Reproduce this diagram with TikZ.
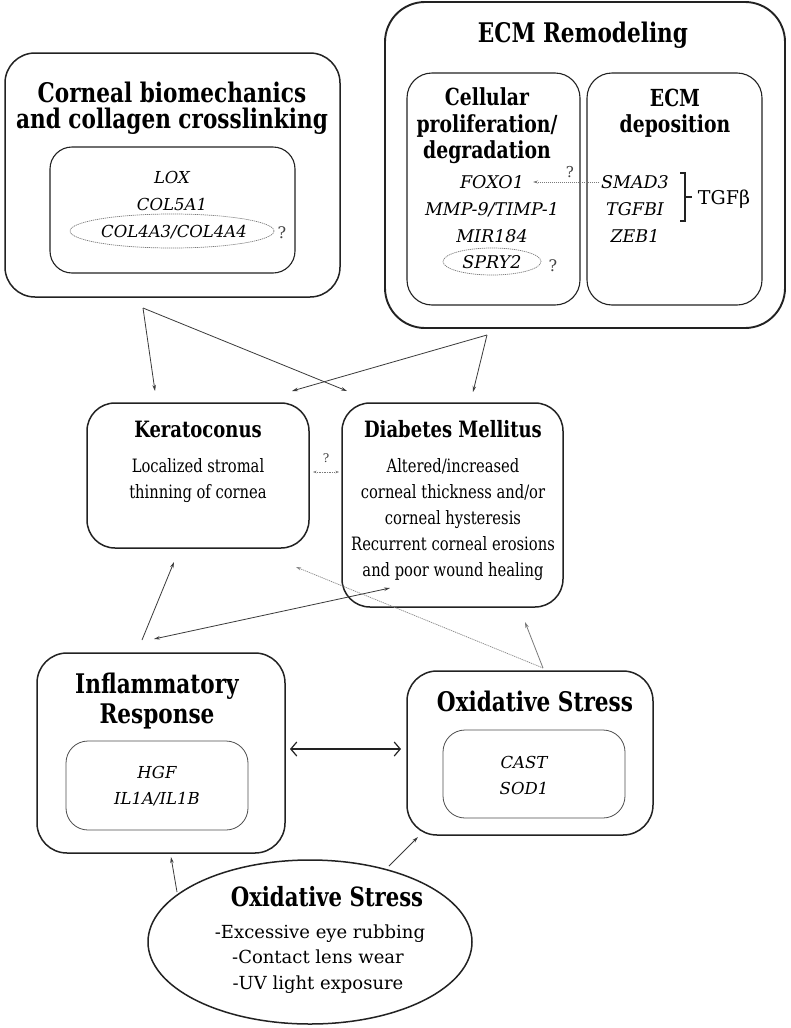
\documentclass[tikz,border=0pt]{standalone}
\usepackage{fontspec}
\setmainfont{DejaVu Serif}
\newfontfamily\nf{DejaVu Serif}[FakeStretch=0.8]
\newfontfamily\wf{DejaVu Serif}
\usetikzlibrary{arrows.meta,shapes.geometric}
\definecolor{ln}{HTML}{222222}
\definecolor{ar}{HTML}{3A3A3A}
\definecolor{dg}{HTML}{7A7A7A}
\begin{document}
\begin{tikzpicture}[x=1pt,y=-1pt,
  bx/.style={draw=ln,line width=1.5pt,rounded corners=#1,inner sep=0,minimum width=0,minimum height=0},
  ibx/.style={draw=ln,line width=1.1pt,rounded corners=#1,inner sep=0},
  tbx/.style={draw=ln!80,line width=0.8pt,rounded corners=#1,inner sep=0},
  ttl/.style={anchor=base,inner sep=0,font=\nf\bfseries\fontsize{27}{30}\selectfont},
  mttl/.style={anchor=base,inner sep=0,font=\nf\bfseries\fontsize{22.5}{26}\selectfont},
  sttl/.style={anchor=base,inner sep=0,font=\nf\bfseries\fontsize{23.5}{26}\selectfont},
  body/.style={anchor=base,inner sep=0,font=\nf\fontsize{18.4}{26}\selectfont},
  ebody/.style={anchor=base,inner sep=0,font=\wf\fontsize{18}{26}\selectfont},
  gene/.style={anchor=base,inner sep=0,font=\wf\itshape\fontsize{17.5}{26}\selectfont},
  cgene/.style={anchor=base,inner sep=0,font=\wf\itshape\fontsize{16.5}{26}\selectfont},
  qm/.style={anchor=base,inner sep=0,text=ln!85,font=\wf\fontsize{16}{20}\selectfont},
  sqm/.style={anchor=base,inner sep=0,text=ln!85,font=\wf\fontsize{12}{14}\selectfont},
  arr/.style={draw=ar,line width=0.8pt,-{Stealth[length=6pt,width=3.5pt]}},
  darr/.style={draw=ar,line width=0.8pt,{Stealth[length=6pt,width=3.5pt]}-{Stealth[length=6pt,width=3.5pt]}},
  dotarr/.style={draw=dg,line width=0.7pt,dash pattern=on 1.2pt off 0.8pt,-{Stealth[length=5pt,width=3pt]}},
  dotell/.style={draw=dg,line width=0.7pt,dash pattern=on 1.2pt off 0.8pt,ellipse,inner sep=0}
]
\useasboundingbox[fill=white] (0,0) rectangle (790,1028);

% ---------- Corneal biomechanics ----------
\node[bx=30,minimum width=335pt,minimum height=244pt] (corneal) at (172.5,175) {};
\node[ibx=22,minimum width=245pt,minimum height=126pt] (cornealin) at (172.5,210) {};
\node[ttl] (ct1) at (172,102) {Corneal biomechanics};
\node[ttl] (ct2) at (172,128) {and collagen crosslinking};
\node[cgene] (lox) at (172,183) {LOX};
\node[cgene] (col5) at (172,210) {COL5A1};
\node[cgene] (col4) at (174,237) {COL4A3/COL4A4};
\node[dotell,minimum width=204pt,minimum height=34pt] (col4e) at (172,231) {};
\node[qm] (q1) at (282,238) {?};

% ---------- ECM Remodeling ----------
\node[bx=40,line width=1.9pt,minimum width=400pt,minimum height=326pt] (ecm) at (585,165) {};
\node[ibx=25,minimum width=173pt,minimum height=232pt] (ecmL) at (493.5,189) {};
\node[ibx=25,minimum width=175pt,minimum height=232pt] (ecmR) at (674.5,189) {};
\node[ttl] (et) at (583,42) {ECM Remodeling};
\node[sttl] (el1) at (487,105) {Cellular};
\node[sttl] (el2) at (487,132) {proliferation/};
\node[sttl] (el3) at (487,158) {degradation};
\node[sttl] (er1) at (675,106) {ECM};
\node[sttl] (er2) at (675,132) {deposition};
\node[gene] (foxo) at (492,188) {FOXO1};
\node[gene] (mmp) at (492,215) {MMP-9/TIMP-1};
\node[gene] (mir) at (492,242) {MIR184};
\node[gene] (spry) at (492,268) {SPRY2};
\node[dotell,minimum width=98pt,minimum height=27pt] (sprye) at (492,261.5) {};
\node[qm] (q2) at (553,271) {?};
\node[gene] (smad) at (635,188) {SMAD3};
\node[gene] (tgfbi) at (635,215) {TGFBI};
\node[gene] (zeb) at (635,242) {ZEB1};
\node[anchor=base,inner sep=0,font=\wf\fontsize{19}{22}\selectfont] (tgfb) at (724,204) {TGFβ};
\coordinate (brt) at (680,173);
\coordinate (brb) at (680,221);
\coordinate (brm) at (685,197);
\coordinate (brmr) at (692,197);
\draw[ln,line width=1.1pt] (brt) -- ++(5,0) -- ++(0,48) -- (brb);
\draw[ln,line width=1.1pt] (brm) -- (brmr);
\coordinate (smadL) at (599,182);
\coordinate (foxoR) at (533,182);
\draw[dotarr] (smadL) -- (foxoR);
\node[sqm,font=\wf\fontsize{15}{17}\selectfont] (q3) at (570,177) {?};

% ---------- Keratoconus / Diabetes ----------
\node[bx=28,minimum width=222pt,minimum height=145pt] (kerato) at (198,475.5) {};
\node[mttl] (kt) at (198,437) {Keratoconus};
\node[body] (kb1) at (198,472) {Localized stromal};
\node[body] (kb2) at (198,498) {thinning of cornea};

\node[bx=28,minimum width=221pt,minimum height=204pt] (diab) at (452.5,505) {};
\node[mttl] (dt) at (453,437) {Diabetes Mellitus};
\node[body] (db1) at (453,472) {Altered/increased};
\node[body] (db2) at (453,498) {corneal thickness and/or};
\node[body] (db3) at (453,524) {corneal hysteresis};
\node[body] (db4) at (453,550) {Recurrent corneal erosions};
\node[body] (db5) at (453,576) {and poor wound healing};

\coordinate (kR) at (313,472);
\coordinate (dL) at (339,472);
\draw[draw=dg,line width=0.6pt,dash pattern=on 1pt off 0.7pt,{Stealth[length=3.5pt,width=2.5pt]}-{Stealth[length=3.5pt,width=2.5pt]}] (kR) -- (dL);
\node[sqm] (q4) at (326,462) {?};

% arrows from top boxes
\coordinate (cB) at (143,308);
\coordinate (eB) at (487,335);
\coordinate (kT1) at (155,391);
\coordinate (kT2) at (292,391);
\coordinate (dT1) at (347,391);
\coordinate (dT2) at (473,392);
\draw[arr] (cB) -- (kT1);
\draw[arr] (cB) -- (dT1);
\draw[arr] (eB) -- (kT2);
\draw[arr] (eB) -- (dT2);

% ---------- Inflammatory / Oxidative ----------
\node[bx=30,minimum width=248pt,minimum height=200pt] (infl) at (161,753) {};
\node[tbx=22,minimum width=182pt,minimum height=89pt] (inflin) at (157,785.5) {};
\node[ttl] (it1) at (157,693) {Inflammatory};
\node[ttl] (it2) at (157,723) {Response};
\node[gene,font=\wf\itshape\fontsize{16.5}{26}\selectfont] (hgf) at (157,778) {HGF};
\node[gene,font=\wf\itshape\fontsize{16.5}{26}\selectfont] (il) at (157,804) {IL1A/IL1B};

\node[bx=30,minimum width=246pt,minimum height=164pt] (oxb) at (530,753) {};
\node[tbx=22,minimum width=182pt,minimum height=88pt] (oxbin) at (534,774) {};
\node[ttl] (ot) at (535,711) {Oxidative Stress};
\node[gene,font=\wf\itshape\fontsize{16.5}{26}\selectfont] (cast) at (524,768) {CAST};
\node[gene,font=\wf\itshape\fontsize{16.5}{26}\selectfont] (sod) at (524,794) {SOD1};

\coordinate (iR) at (290,749);
\coordinate (oL) at (401,749);
\draw[draw=ln,line width=1.2pt,{Straight Barb[length=6pt,width=14pt]}-{Straight Barb[length=6pt,width=14pt]}] (iR) -- (oL);

\coordinate (iT) at (142,640);
\coordinate (kB) at (174,562);
\draw[arr] (iT) -- (kB);
\coordinate (iT2) at (154,639);
\coordinate (dBL) at (390,588);
\draw[darr] (iT2) -- (dBL);
\coordinate (oT) at (543,668);
\coordinate (kBR) at (296,567);
\coordinate (dB) at (525,622);
\draw[dotarr,draw=dg!90] (oT) -- (kBR);
\draw[arr,draw=dg] (oT) -- (dB);

% ---------- Oxidative Stress ellipse ----------
\node[draw=ln,line width=1.5pt,ellipse,minimum width=324pt,minimum height=164pt,inner sep=0] (oxe) at (310,942) {};
\node[ttl,font=\nf\bfseries\fontsize{26.5}{30}\selectfont] (oet) at (327,906) {Oxidative Stress};
\node[ebody] (oe1) at (320,938) {-Excessive eye rubbing};
\node[ebody] (oe2) at (318,963) {-Contact lens wear};
\node[ebody] (oe3) at (318,989) {-UV light exposure};

\coordinate (eIn) at (177,892);
\coordinate (iB) at (171,857);
\coordinate (eOx) at (389,866);
\coordinate (oB) at (418,837);
\draw[arr] (eIn) -- (iB);
\draw[arr] (eOx) -- (oB);
\end{tikzpicture}
\end{document}
